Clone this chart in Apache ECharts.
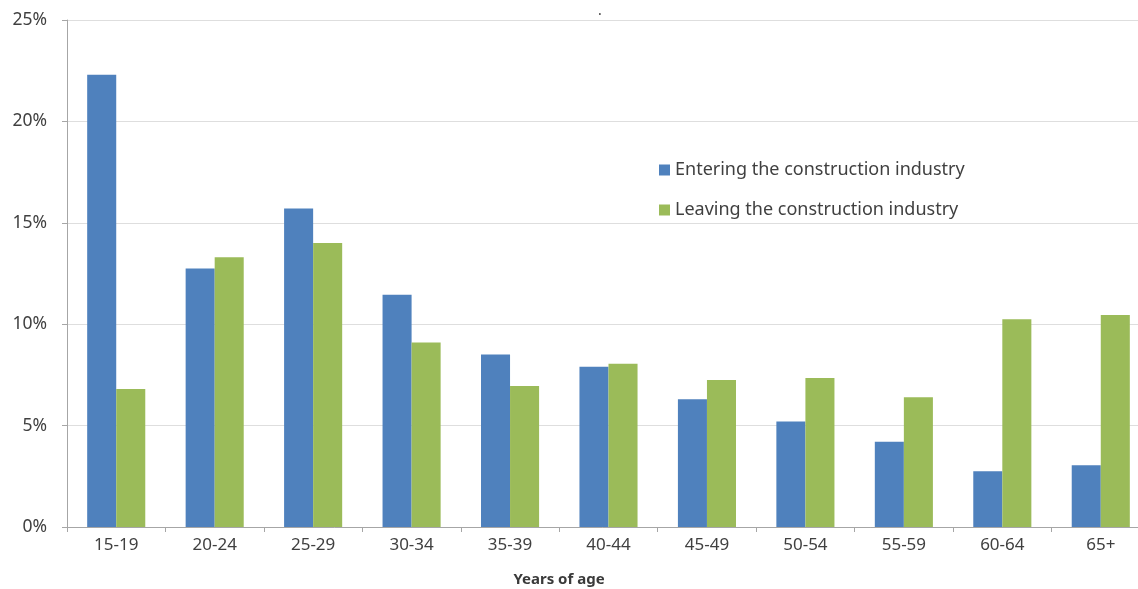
<!DOCTYPE html>
<html>
<head>
<meta charset="utf-8">
<script src="https://cdn.jsdelivr.net/npm/echarts@6/dist/echarts.min.js"></script>
<style>
  html, body { margin: 0; padding: 0; background: #ffffff; }
  #chart { width: 1138px; height: 589px; }
</style>
</head>
<body>
<div id="chart"></div>
<script>
// Age bands and share of workers (%) entering / leaving construction
const ageGroups = ['15-19', '20-24', '25-29', '30-34', '35-39', '40-44', '45-49', '50-54', '55-59', '60-64', '65+'];
const entering = [22.3, 12.75, 15.7, 11.45, 8.5, 7.9, 6.3, 5.2, 4.2, 2.75, 3.05];
const leaving = [6.8, 13.3, 14.0, 9.1, 6.95, 8.05, 7.25, 7.35, 6.4, 10.25, 10.45];
const yTicks = [0, 5, 10, 15, 20, 25];

const FONT = '"Noto Sans", "DejaVu Sans", sans-serif';
const chart = echarts.init(document.getElementById('chart'));

chart.setOption({
  animation: false,
  backgroundColor: '#ffffff',
  // plot area runs a little past the right edge of the canvas
  grid: { left: 67, width: 1083, top: 20, bottom: 62, containLabel: false, outerBoundsMode: 'none' },
  legend: {
    data: ['Entering the construction industry', 'Leaving the construction industry'],
    orient: 'vertical',
    left: 654,
    top: 156,
    itemWidth: 11,
    itemHeight: 11,
    itemGap: 22,
    icon: 'rect',
    textStyle: { fontFamily: FONT, fontSize: 18, color: '#404040', padding: [0, 0, 0, 0] }
  },
  xAxis: {
    type: 'category',
    data: ageGroups,
    axisLine: { lineStyle: { color: '#a6a6a6', width: 1 } },
    axisTick: { show: true, length: 5, lineStyle: { color: '#a6a6a6' } },
    axisLabel: { fontFamily: FONT, fontSize: 17, color: '#404040', margin: 10 }
  },
  yAxis: {
    type: 'value',
    min: yTicks[0],
    max: yTicks[yTicks.length - 1],
    interval: 5,
    axisLine: { show: true, lineStyle: { color: '#a6a6a6', width: 1 } },
    axisTick: { show: true, length: 5, lineStyle: { color: '#a6a6a6' } },
    splitLine: { lineStyle: { color: '#dedede', width: 1 } },
    axisLabel: { fontFamily: FONT, fontSize: 17.5, color: '#404040', margin: 20, formatter: '{value}%' }
  },
  series: [
    {
      name: 'Entering the construction industry',
      type: 'bar',
      data: entering,
      barGap: '0%',
      barCategoryGap: '41%',
      itemStyle: { color: '#4f81bd' }
    },
    {
      name: 'Leaving the construction industry',
      type: 'bar',
      data: leaving,
      barGap: '0%',
      barCategoryGap: '41%',
      itemStyle: { color: '#9bbb59' }
    }
  ],
  graphic: [
    { type: 'text', left: 598, top: 4, style: { text: '.', fontSize: 14, fill: '#444444', fontFamily: FONT } },
    {
      type: 'text', x: 559, y: 580,
      style: {
        text: 'Years of age', fontFamily: FONT, fontSize: 15, fontWeight: 'bold',
        fill: '#3a3a3a', align: 'center', verticalAlign: 'middle'
      }
    }
  ]
});
</script>
</body>
</html>
